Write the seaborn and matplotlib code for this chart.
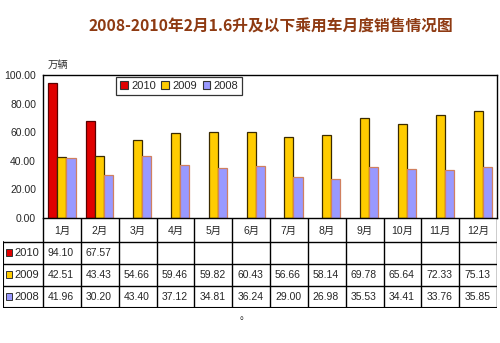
import numpy as np
import pandas as pd
import matplotlib
matplotlib.use("Agg")
import matplotlib.pyplot as plt
import seaborn as sns
from matplotlib.patches import Patch, Rectangle

months = ["1月", "2月", "3月", "4月", "5月", "6月", "7月", "8月", "9月", "10月", "11月", "12月"]
series_names = ["2010", "2009", "2008"]
v2010 = [94.10, 67.57, None, None, None, None, None, None, None, None, None, None]
v2009 = [42.51, 43.43, 54.66, 59.46, 59.82, 60.43, 56.66, 58.14, 69.78, 65.64, 72.33, 75.13]
v2008 = [41.96, 30.20, 43.40, 37.12, 34.81, 36.24, 29.00, 26.98, 35.53, 34.41, 33.76, 35.85]
yticks = [0, 20, 40, 60, 80, 100]

title = "2008-2010年2月1.6升及以下乘用车月度销售情况图"
unit = "万辆"

colors = {"2010": "#E00000", "2009": "#FFCC00", "2008": "#9999FF"}
edges = {"2010": "#5A0000", "2009": "#3A2A00", "2008": "#D08060"}

sns.set_theme(style="white")
plt.rcParams['font.family'] = ['Liberation Sans', 'Noto Sans CJK SC', 'DejaVu Sans']

rows = []
for name, vals in zip(series_names, [v2010, v2009, v2008]):
    for m, v in zip(months, vals):
        rows.append({"month": m, "year": name, "value": np.nan if v is None else v})
df = pd.DataFrame(rows)

W, H = 500, 343
fig = plt.figure(figsize=(5, 3.43), dpi=100)
fig.patch.set_facecolor("white")

L, R, T, B = 43, 497, 75, 218
ax = fig.add_axes([L / W, 1 - B / H, (R - L) / W, (B - T) / H])
sns.barplot(data=df, x="month", y="value", hue="year", hue_order=series_names,
            order=months, palette=colors, width=0.72, ax=ax, legend=False,
            saturation=1, errorbar=None)
for cont, name in zip(ax.containers, series_names):
    for p in cont.patches:
        p.set_edgecolor(edges[name])
        p.set_linewidth(0.9)
ax.set_xlim(-0.5, len(months) - 0.5)
ax.set_ylim(0, 100)
ax.set_yticks(yticks)
ax.set_yticklabels([f"{t:.2f}" for t in yticks], fontsize=7.5, family=['Liberation Sans'])
ax.set_xticks([])
ax.set_xlabel("")
ax.set_ylabel("")
ax.tick_params(axis="y", length=0, pad=5)
for s in ax.spines.values():
    s.set_color("black")
    s.set_linewidth(1.0)

handles = [Patch(facecolor=colors[n], edgecolor="#333333", linewidth=0.8, label=n) for n in series_names]
leg = ax.legend(handles=handles, ncol=3, loc="upper left",
                bbox_to_anchor=((116 - L) / (R - L), (B - 77) / (B - T)),
                frameon=True, fancybox=False, fontsize=8, handlelength=0.7,
                handleheight=0.7, handletextpad=0.3, columnspacing=0.5,
                borderpad=0.35, borderaxespad=0)
leg.get_frame().set_edgecolor("black")
leg.get_frame().set_linewidth(0.9)

fig.text(271 / W, 1 - 27 / H, title, ha="center", va="center", fontsize=11.3,
         fontweight="bold", style="italic", color="#8E3A12",
         family=['Noto Sans CJK SC', 'DejaVu Sans'])
fig.text(48 / W, 1 - 65 / H, unit, ha="left", va="center", fontsize=7.5,
         family=['Noto Sans CJK SC'], color="#333333")

# data table
tL, tT, tB = 3, 218, 308
tax = fig.add_axes([tL / W, 1 - tB / H, (R - tL) / W, (tB - tT) / H])
tax.set_xlim(tL, R)
tax.set_ylim(tB, tT)
tax.axis("off")
col_edges = L + np.arange(len(months) + 1) * (R - L) / len(months)
row_edges = [218, 242, 264, 286, 308]
for y in row_edges[1:]:
    tax.plot([tL, R], [y, y], color="black", lw=1.5 if y == 308 else 1.0, solid_capstyle="butt")
tax.plot([tL, tL], [242, 308], color="black", lw=1.5)
for x in col_edges:
    tax.plot([x, x], [218, 308], color="black", lw=1.0)
for i, m in enumerate(months):
    cx = (col_edges[i] + col_edges[i + 1]) / 2
    tax.text(cx, 231, m, ha="center", va="center", fontsize=7.5,
             family=['Liberation Sans', 'Noto Sans CJK SC'])
for r, (name, vals) in enumerate(zip(series_names, [v2010, v2009, v2008])):
    cy = (row_edges[r + 1] + row_edges[r + 2]) / 2
    tax.add_patch(Rectangle((5.5, cy - 3.5), 6, 7, facecolor=colors[name],
                            edgecolor="#333333", lw=0.7))
    tax.text(14, cy, name, ha="left", va="center", fontsize=8)
    for i, v in enumerate(vals):
        if v is None:
            continue
        tax.text(col_edges[i] + 5, cy, f"{v:.2f}", ha="left", va="center", fontsize=7.5)

fig.text(245 / W, 1 - 316 / H, "。", ha="center", va="center", fontsize=7,
         family=['Noto Sans CJK SC'])

fig.savefig("out.png", dpi=100)
